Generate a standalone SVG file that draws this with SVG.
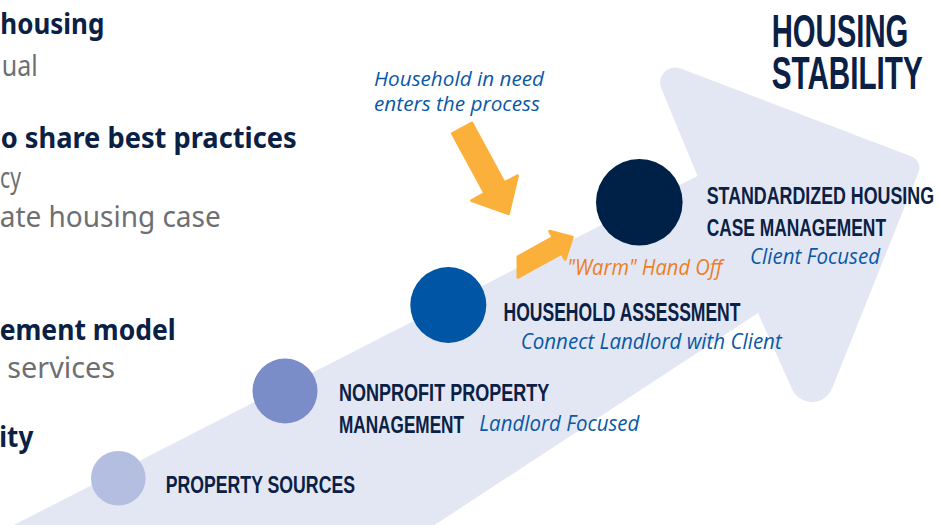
<svg xmlns="http://www.w3.org/2000/svg" width="938" height="525" viewBox="0 0 938 525">
<style>
.cond{font-family:"Liberation Sans",Arial,sans-serif;font-weight:bold;fill:#0A2145;}
.ital{font-family:"Open Sans","Noto Sans",sans-serif;font-style:italic;fill:#0A58A8;}
.orange{fill:#EE7E1E;}
.lb{font-family:"Noto Sans","Open Sans",sans-serif;font-weight:bold;fill:#0A2145;font-size:29px;}
.lg{font-family:"Noto Sans","Open Sans",sans-serif;fill:#6E6F72;font-size:29px;}
.oarrow{fill:#FBB03B;stroke:#FBB03B;stroke-width:3;stroke-linejoin:round;}
</style>
<rect width="938" height="525" fill="#FFFFFF"/>
<g id="background-arrow">
<path d="M 4,530 L 697.5,176 L 661.3,88.3 A 15 15 0 0 1 680.7,68.5 L 911.6,156.6 A 12 12 0 0 1 918.5,172.3 L 832,388.4 A 21.7 21.7 0 0 1 792.1,389.2 L 758,313 L 427,530 Z" fill="#E3E7F4"/>
</g>
<g id="left-text">
<text class="lb" x="104.3" y="34" text-anchor="end" textLength="104" lengthAdjust="spacingAndGlyphs">housing</text>
<text class="lg" x="37.7" y="76" text-anchor="end" textLength="36" lengthAdjust="spacingAndGlyphs">ual</text>
<text class="lb" x="296.7" y="148" text-anchor="end" textLength="296" lengthAdjust="spacingAndGlyphs">o share best practices</text>
<text class="lg" x="21" y="188" text-anchor="end" textLength="21" lengthAdjust="spacingAndGlyphs">cy</text>
<text class="lg" x="220.7" y="227" text-anchor="end" textLength="221" lengthAdjust="spacingAndGlyphs">ate housing case</text>
<text class="lb" x="175.7" y="340" text-anchor="end" textLength="176" lengthAdjust="spacingAndGlyphs">ement model</text>
<text class="lg" x="115" y="378" text-anchor="end" textLength="107.7" lengthAdjust="spacingAndGlyphs">services</text>
<text class="lb" x="33.3" y="447" text-anchor="end" textLength="34" lengthAdjust="spacingAndGlyphs">ity</text>
</g>
<g id="title">
<text class="cond" x="771.7" y="46.7" font-size="46.5" textLength="136.6" lengthAdjust="spacingAndGlyphs">HOUSING</text>
<text class="cond" x="771.7" y="89.3" font-size="46" textLength="151" lengthAdjust="spacingAndGlyphs">STABILITY</text>
</g>
<g id="connectors">
<polygon class="oarrow" points="452.5,133.5 471.9,123.1 504.3,182.9 517.5,175.7 508.4,213.6 471.7,200.5 484.9,193.3"/>
<polygon class="oarrow" points="518,256.7 553.1,237.4 549.7,231.3 572.3,237.1 565.1,259.3 561.7,253.2 518,277.3"/>
</g>
<g id="entry-note">
<text class="ital" x="374" y="86" font-size="20" textLength="170" lengthAdjust="spacingAndGlyphs">Household in need</text>
<text class="ital" x="374" y="111" font-size="20" textLength="166" lengthAdjust="spacingAndGlyphs">enters the process</text>
</g>
<g id="node-property-sources">
<circle cx="118.3" cy="478.3" r="27.3" fill="#B3BEE0"/>
<text class="cond" x="165.7" y="493.3" font-size="24.5" textLength="189.3" lengthAdjust="spacingAndGlyphs">PROPERTY SOURCES</text>
</g>
<g id="node-nonprofit">
<circle cx="285" cy="391" r="32.5" fill="#7A8DC8"/>
<text class="cond" x="339" y="401" font-size="24.5" textLength="210.3" lengthAdjust="spacingAndGlyphs">NONPROFIT PROPERTY</text>
<text class="cond" x="339" y="433.3" font-size="24.5" textLength="125" lengthAdjust="spacingAndGlyphs">MANAGEMENT</text>
<text class="ital" x="479.3" y="431" font-size="21" textLength="160" lengthAdjust="spacingAndGlyphs">Landlord Focused</text>
</g>
<g id="node-household-assessment">
<circle cx="448.3" cy="305" r="38" fill="#0055A5"/>
<text class="cond" x="503.5" y="321" font-size="25" textLength="237" lengthAdjust="spacingAndGlyphs">HOUSEHOLD ASSESSMENT</text>
<text class="ital" x="520.7" y="349" font-size="21" textLength="261" lengthAdjust="spacingAndGlyphs">Connect Landlord with Client</text>
</g>
<g id="node-case-management">
<circle cx="639.3" cy="202.3" r="43.3" fill="#002147"/>
<text class="cond" x="706.7" y="204" font-size="24.5" textLength="227.3" lengthAdjust="spacingAndGlyphs">STANDARDIZED HOUSING</text>
<text class="cond" x="706.7" y="235.7" font-size="24.5" textLength="179.3" lengthAdjust="spacingAndGlyphs">CASE MANAGEMENT</text>
<text class="ital" x="750" y="263.5" font-size="21" textLength="130" lengthAdjust="spacingAndGlyphs">Client Focused</text>
</g>
<g id="handoff-label">
<text class="ital orange" x="567.3" y="274.5" font-size="21" textLength="155" lengthAdjust="spacingAndGlyphs">"Warm" Hand Off</text>
</g>
</svg>
